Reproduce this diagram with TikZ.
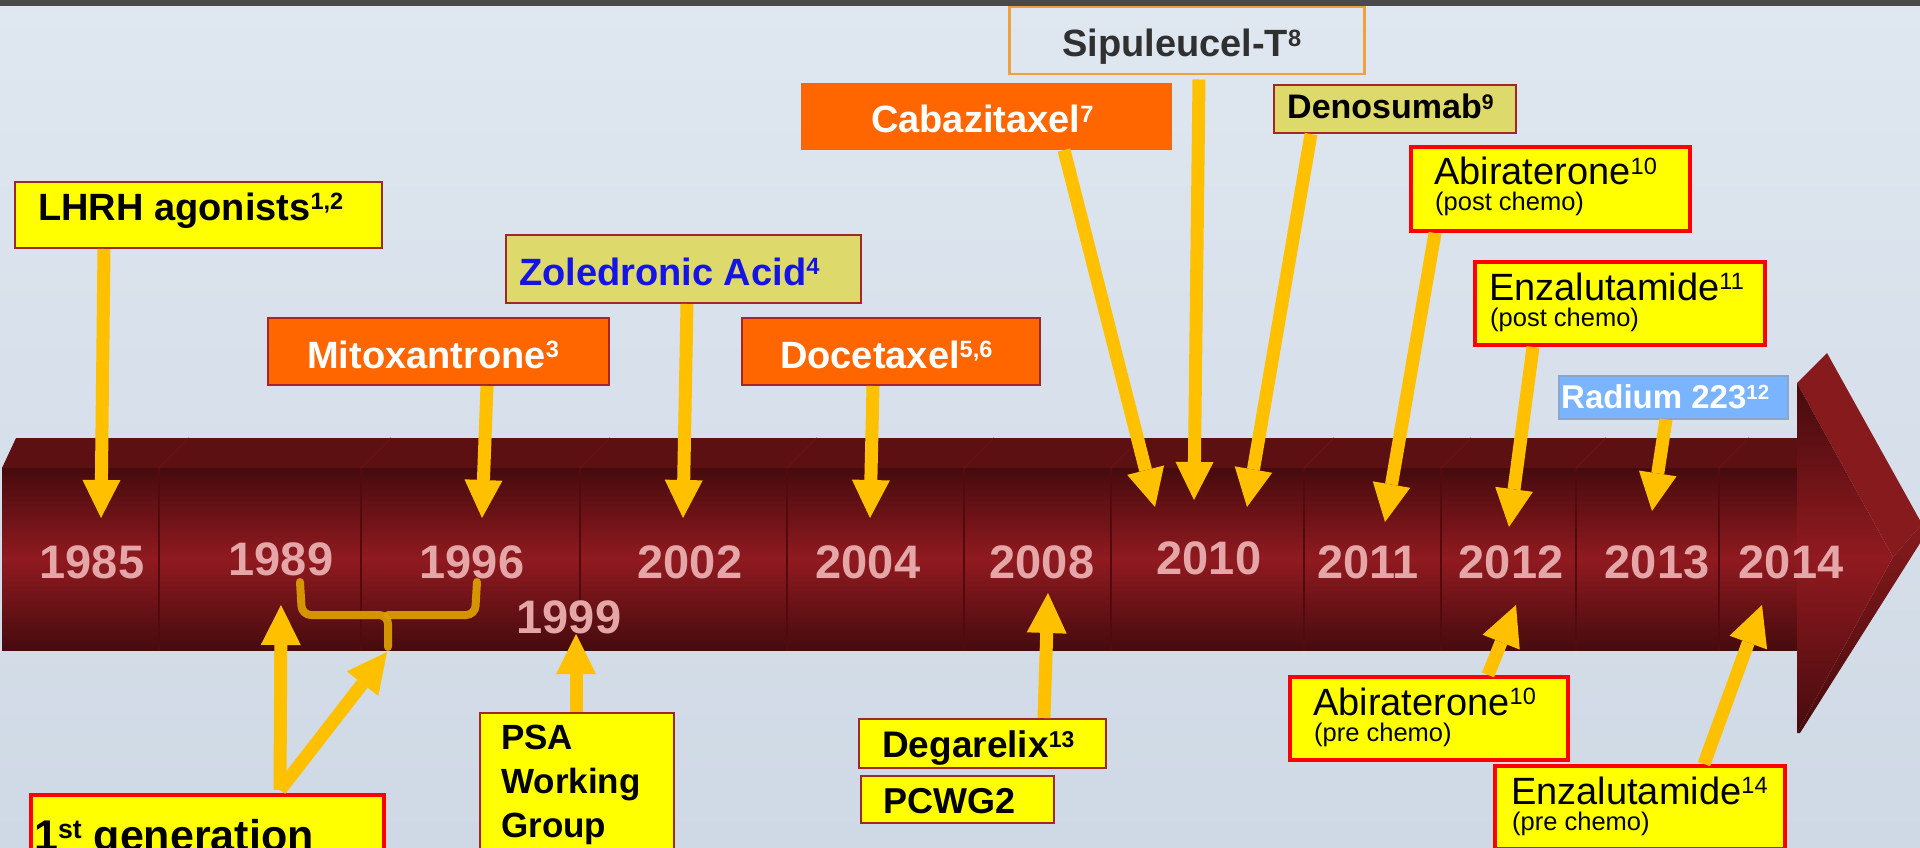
\documentclass[tikz,border=0pt]{standalone}
\usepackage{fontspec}
\setmainfont{Liberation Sans}
\usepackage{graphicx}
\usetikzlibrary{arrows.meta,calc}

\definecolor{bgtop}{RGB}{223,231,240}
\definecolor{bgbot}{RGB}{207,217,229}
\definecolor{strip}{RGB}{74,74,74}
\definecolor{arr}{RGB}{255,192,0}
\definecolor{bracec}{RGB}{222,160,0}
\definecolor{ylw}{RGB}{255,255,0}
\definecolor{khaki}{RGB}{221,217,107}
\definecolor{orng}{RGB}{255,102,0}
\definecolor{dred}{RGB}{160,40,42}
\definecolor{rred}{RGB}{255,0,0}
\definecolor{skyb}{RGB}{122,180,255}
\definecolor{skybd}{RGB}{140,165,205}
\definecolor{sipbd}{RGB}{240,160,60}
\definecolor{yearc}{RGB}{228,166,166}
\definecolor{bardark}{RGB}{70,11,13}
\definecolor{barmid}{RGB}{144,26,32}
\definecolor{bartop}{RGB}{92,16,18}
\definecolor{barside}{RGB}{134,26,29}
\definecolor{divc}{RGB}{82,10,12}
\definecolor{zolblue}{RGB}{20,20,230}
\definecolor{sipt}{RGB}{48,48,48}

\newcommand\supx[1]{\raisebox{0.27em}{\scalebox{0.62}{#1}}}

\begin{document}
\begin{tikzpicture}[x=1pt,y=-1pt,
  box/.style={draw, inner sep=0pt, anchor=north west},
  thinbox/.style={box, line width=2pt, draw=dred},
  redbox/.style={box, line width=4pt, draw=rred, fill=ylw},
  bb/.style={font=\fontsize{38}{40}\selectfont\bfseries, anchor=base west, inner sep=0pt},
  rg/.style={font=\fontsize{38}{40}\selectfont, anchor=base west, inner sep=0pt},
  sm/.style={font=\fontsize{25.5}{27}\selectfont, anchor=base west, inner sep=0pt},
  yearlab/.style={font=\fontsize{47}{50}\selectfont\bfseries, text=yearc, anchor=base, inner sep=0pt},
  dnarrow/.style={draw=arr, line width=13pt, -{Triangle[length=38pt,width=38pt,line width=0pt]}},
  uparrow/.style={draw=arr, line width=13pt, -{Triangle[length=40pt,width=40pt,line width=0pt]}}
]
\useasboundingbox (0,0) rectangle (1920,848);
\clip (0,0) rectangle (1920,848);

% background
\shade[top color=bgtop, bottom color=bgbot] (0,0) rectangle (1920,848);
\fill[strip] (0,0) rectangle (1920,6);

% timeline bar
\fill[bartop] (2,468) -- (16,438) -- (1797,438) -- (1797,468) -- cycle;
\shade[top color=bardark, bottom color=bardark, middle color=barmid] (2,468) rectangle (1797,650);
\foreach \x in {159,361,580,787,964,1111,1304,1441,1576,1719} {
  \draw[divc, line width=1.5pt] (\x,468) -- (\x,650);
  \draw[divc!60!barmid, line width=1.2pt] (\x,468) -- (\x+30,438);
}
% arrow head of the bar
\fill[barside] (1797,383) -- (1827,353) -- (1922,524) -- (1893,557) -- cycle;
\shade[top color=barside, bottom color=bardark] (1893,557) -- (1922,524) -- (1922,540) -- (1800,733) -- (1797,733) -- cycle;
\shade[top color=bardark, bottom color=bardark, middle color=barmid] (1797,383) -- (1893,557) -- (1797,733) -- cycle;

% years
\node[yearlab] (y1985) at (92,578) {1985};
\node[yearlab] (y1989) at (281,575) {1989};
\node[yearlab] (y1996) at (472,578) {1996};
\node[yearlab] (y2002) at (690,578) {2002};
\node[yearlab] (y2004) at (868,578) {2004};
\node[yearlab] (y2008) at (1042,578) {2008};
\node[yearlab] (y2010) at (1209,574) {2010};
\node[yearlab] (y2011) at (1368,578) {2011};
\node[yearlab] (y2012) at (1511,578) {2012};
\node[yearlab] (y2013) at (1657,578) {2013};
\node[yearlab] (y2014) at (1791,578) {2014};
\node[yearlab] (y1999) at (569,633) {1999};

% brace
\draw[bracec, line width=8pt, line cap=round, rounded corners=9pt, opacity=0.92]
  (300,582) -- (302,615) -- (388,615) -- (388,647);
\draw[bracec, line width=8pt, line cap=round, rounded corners=9pt, opacity=0.92]
  (477,582) -- (475,615) -- (388,615);

% boxes
\node[thinbox, fill=ylw, minimum width=367pt, minimum height=66pt] (lhrh) at (14,181) {};
\node[bb] (lhrh-t) at (38,220) {LHRH agonists\supx{1,2}};

\node[thinbox, fill=orng, minimum width=341pt, minimum height=67pt] (mito) at (267,317) {};
\node[bb, text=white] (mito-t) at (307,368) {Mitoxantrone\supx{3}};

\node[thinbox, fill=khaki, minimum width=355pt, minimum height=68pt] (zol) at (505,234) {};
\node[bb, text=zolblue] (zol-t) at (519,285) {Zoledronic Acid\supx{4}};

\node[thinbox, fill=orng, minimum width=298pt, minimum height=67pt] (doce) at (741,317) {};
\node[bb, text=white] (doce-t) at (780,368) {Docetaxel\supx{5,6}};

\node[box, fill=orng, draw=orng!75!gray, line width=1pt, minimum width=370pt, minimum height=66pt] (caba) at (801,83) {};
\node[bb, text=white] (caba-t) at (871,133) {Cabazitaxel\supx{7}};

\node[box, draw=sipbd, line width=2.5pt, minimum width=355pt, minimum height=67pt] (sipu) at (1008,6) {};
\node[bb, text=sipt] (sipu-t) at (1062,57) {Sipuleucel-T\supx{8}};

\node[thinbox, fill=khaki, minimum width=242pt, minimum height=48pt] (deno) at (1273,84) {};
\node[bb, font=\fontsize{34}{36}\selectfont\bfseries] (deno-t) at (1287,119) {Denosumab\supx{9}};

\node[redbox, minimum width=279pt, minimum height=84pt] (abpost) at (1409,145) {};
\node[rg] (abpost-t) at (1434,185) {Abiraterone\supx{10}};
\node[sm] (abpost-s) at (1435,211) {(post chemo)};

\node[redbox, minimum width=290pt, minimum height=83pt] (enzpost) at (1473,260) {};
\node[rg] (enzpost-t) at (1489,300) {Enzalutamide\supx{11}};
\node[sm] (enzpost-s) at (1490,326) {(post chemo)};

\node[box, fill=skyb, draw=skybd, line width=1.5pt, minimum width=229pt, minimum height=43pt] (radium) at (1558,375) {};
\node[bb, font=\fontsize{33}{35}\selectfont\bfseries, text=white] (radium-t) at (1561,408) {Radium 223\supx{12}};

\node[redbox, minimum width=353pt, minimum height=90pt] (gen1) at (29,793) {};
\node[bb, font=\fontsize{43}{45}\selectfont\bfseries] (gen1-t) at (34,850) {1\supx{st} generation};

\node[thinbox, fill=ylw, minimum width=194pt, minimum height=160pt] (psa) at (479,712) {};
\node[bb, font=\fontsize{35}{37}\selectfont\bfseries] (psa-a) at (501,749) {PSA};
\node[bb, font=\fontsize{35}{37}\selectfont\bfseries] (psa-b) at (501,793) {Working};
\node[bb, font=\fontsize{35}{37}\selectfont\bfseries] (psa-c) at (501,837) {Group};

\node[thinbox, fill=ylw, minimum width=247pt, minimum height=49pt] (degar) at (858,718) {};
\node[bb, font=\fontsize{37}{39}\selectfont\bfseries] (degar-t) at (882,757) {Degarelix\supx{13}};

\node[thinbox, fill=ylw, minimum width=193pt, minimum height=47pt] (pcwg) at (860,775) {};
\node[bb, font=\fontsize{36}{38}\selectfont\bfseries] (pcwg-t) at (883,813) {PCWG2};

\node[redbox, minimum width=278pt, minimum height=83pt] (abpre) at (1288,675) {};
\node[rg] (abpre-t) at (1313,715) {Abiraterone\supx{10}};
\node[sm] (abpre-s) at (1314,741) {(pre chemo)};

\node[redbox, minimum width=290pt, minimum height=83pt] (enzpre) at (1493,764) {};
\node[rg] (enzpre-t) at (1511,804) {Enzalutamide\supx{14}};
\node[sm] (enzpre-s) at (1512,830) {(pre chemo)};

% arrow tips on the timeline
\coordinate (t1) at (101,518);
\coordinate (t2) at (482,518);
\coordinate (t3) at (683,518);
\coordinate (t4) at (870,518);
\coordinate (t5) at (1155,507);
\coordinate (t6) at (1194,500);
\coordinate (t7) at (1247,507);
\coordinate (t8) at (1385,522);
\coordinate (t9) at (1509,527);
\coordinate (t10) at (1652,511);
\coordinate (t11) at (281,605);
\coordinate (t12) at (387,652);
\coordinate (t13) at (576,634);
\coordinate (t14) at (1048,593);
\coordinate (t15) at (1516,605);
\coordinate (t16) at (1762,605);

% arrows
\draw[dnarrow] ($(lhrh.south west)+(90,0)$) -- (t1);
\draw[dnarrow] ($(mito.south west)+(220,0)$) -- (t2);
\draw[dnarrow] ($(zol.south west)+(182,0)$) -- (t3);
\draw[dnarrow] ($(doce.south west)+(132,0)$) -- (t4);
\draw[dnarrow] ($(caba.south west)+(263,0)$) -- (t5);
\draw[dnarrow] ($(sipu.south west)+(191,4)$) -- (t6);
\draw[dnarrow] ($(deno.south west)+(38,0)$) -- (t7);
\draw[dnarrow] ($(abpost.south west)+(26,0)$) -- (t8);
\draw[dnarrow] ($(enzpost.south west)+(60,0)$) -- (t9);
\draw[dnarrow] ($(radium.south west)+(108,0)$) -- (t10);
\draw[uparrow] ($(gen1.north west)+(251,-3)$) -- (t11);
\draw[uparrow] ($(gen1.north west)+(251,-3)$) -- (t12);
\draw[uparrow] ($(psa.north west)+(97,0)$) -- (t13);
\draw[uparrow] ($(degar.north west)+(186,0)$) -- (t14);
\draw[uparrow] ($(abpre.north west)+(200,0)$) -- (t15);
\draw[uparrow] ($(enzpre.north west)+(211,0)$) -- (t16);
\end{tikzpicture}
\end{document}
